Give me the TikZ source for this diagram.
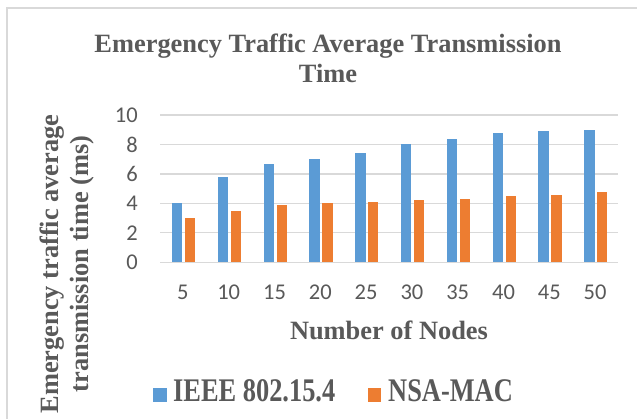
\documentclass[tikz,border=0pt]{standalone}
\usepackage{fontspec}
\setmainfont{Liberation Serif}
\newfontfamily\numfont{Carlito}
\begin{document}
\begin{tikzpicture}[x=1pt,y=-1pt,
  txt/.style={text=axisgrey,inner sep=0pt},
  heading/.style={txt,font=\bfseries\fontsize{26.4}{30.5}\selectfont},
  ticklbl/.style={txt,font=\numfont\fontsize{22.5}{26}\selectfont},
  grid/.style={draw=gridgrey,line width=1.3pt},
  barA/.style={fill=seriesA},
  barB/.style={fill=seriesB}]
\definecolor{axisgrey}{HTML}{595959}
\definecolor{gridgrey}{HTML}{D9D9D9}
\definecolor{seriesA}{HTML}{5B9BD5}
\definecolor{seriesB}{HTML}{ED7D31}
\useasboundingbox[fill=white] (0,0) rectangle (637,419);
% chart frame (top and left edges)
\draw[gridgrey,line width=1.5pt] (7,419) -- (7,8) -- (637,8);
% chart title (base anchor sits on the last line)
\node[heading,align=center,anchor=base] (title) at (328,83)
  {Emergency Traffic Average Transmission\\Time};
% horizontal gridlines and value labels
\foreach \v in {0,2,...,10}{
  \path (160,{262.3-14.73*\v}) coordinate (gl\v) (618,{262.3-14.73*\v}) coordinate (gr\v);
  \draw[grid] (gl\v) -- (gr\v);
  \node[ticklbl,anchor=east] (yl\v) at ([xshift=-22pt]gl\v) {\v};
}
% bars: IEEE 802.15.4 and NSA-MAC
\foreach \n/\a/\b [count=\i] in {5/4/3,10/5.8/3.5,15/6.7/3.9,20/7/4,25/7.4/4.1,
    30/8/4.2,35/8.4/4.3,40/8.8/4.5,45/8.9/4.6,50/9/4.8}{
  \pgfmathsetmacro{\c}{160+45.8*(\i-0.5)}
  \fill[barA] ({\c-10.9},262.3) rectangle ({\c-0.6},{262.3-14.73*\a});
  \fill[barB] ({\c+2.0},262.3) rectangle ({\c+12.3},{262.3-14.73*\b});
  \node[ticklbl,anchor=base] (xl\i) at (\c,299.5) {\n};
}
% axis titles
\node[heading,anchor=base] (xtitle) at (389,340) {Number of Nodes};
\node[heading,align=center,rotate=90] (ytitle) at (67,264)
  {Emergency traffic average\\transmission time (ms)};
% legend
\fill[seriesA] (153.3,388.3) rectangle (166.7,401.7);
\node[heading,anchor=base west,yscale=1.25] (legA) at (173,401.7) {IEEE 802.15.4};
\fill[seriesB] (367.7,388.3) rectangle (381,401.7);
\node[heading,anchor=base west,yscale=1.25] (legB) at (388,401.7) {NSA-MAC};
\end{tikzpicture}
\end{document}
